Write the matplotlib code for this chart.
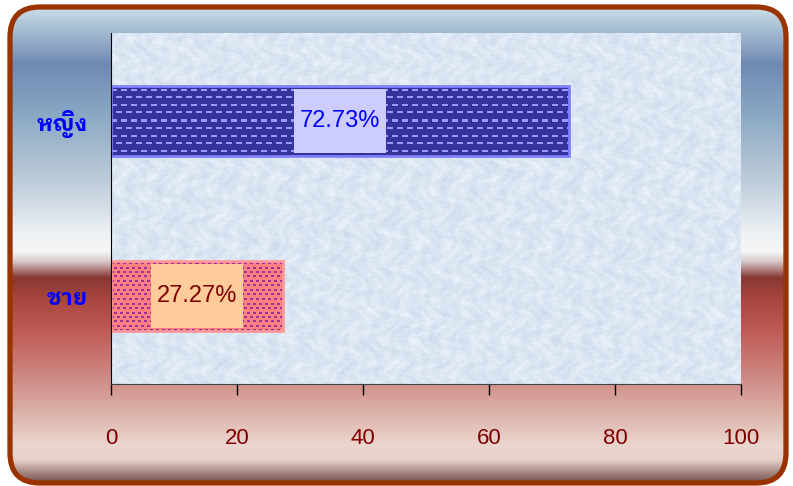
import numpy as np
import matplotlib
matplotlib.use("Agg")
import matplotlib.pyplot as plt
from matplotlib.patches import FancyBboxPatch, Rectangle
from matplotlib.colors import to_rgba, to_rgb

categories = ["ชาย", "หญิง"]
values = [27.27, 72.73]
value_labels = ["27.27%", "72.73%"]
xticks = [0, 20, 40, 60, 80, 100]

bar_colors = ["#ff8080", "#333399"]
dash_colors = ["#993399", "#9999ff"]
edge_colors = ["#ff9999", "#8080ff"]
box_colors = ["#ffcc99", "#ccccff"]
text_colors = ["#800000", "#0000ff"]

W, H = 793, 486
fig = plt.figure(figsize=(W / 100, H / 100), dpi=100)
fig.patch.set_facecolor("white")

# background panel: rounded frame filled with a vertical blue / red gradient
bg = fig.add_axes([0, 0, 1, 1], zorder=0)
bg.set_xlim(0, W)
bg.set_ylim(H, 0)
bg.axis("off")

stops_y = [7, 30, 65, 110, 180, 235, 252, 262, 278, 300, 325, 360, 400, 445, 460, 472, 484]
stops_c = ["#cfe0ea", "#a6bfd2", "#7089b3", "#86a5c2", "#bccbd9", "#eef2f5", "#f6f6f6",
           "#d8c8c8", "#883832", "#a8463f", "#bb5651", "#c97773", "#d7a39d", "#ead6ce",
           "#e6d2ca", "#a88a84", "#6a4a46"]
ys = np.arange(H) + 0.5
rgb = np.array([to_rgb(c) for c in stops_c])
grad = np.stack([np.interp(ys, stops_y, rgb[:, k]) for k in range(3)], axis=1)
grad = np.repeat(grad[:, None, :], 2, axis=1)

frame = FancyBboxPatch((10, 7), 776, 476, boxstyle="round,pad=0,rounding_size=30",
                       facecolor="none", edgecolor="#993300", linewidth=3.8, zorder=3)
bg.add_patch(frame)
im = bg.imshow(grad, extent=(0, W, H, 0), aspect="auto", interpolation="bilinear", zorder=1)
im.set_clip_path(frame)

# chart
ax = fig.add_axes([111 / W, (H - 384) / H, 630 / W, 351 / H], zorder=1)
ax.patch.set_visible(False)
ax.set_xlim(0, 100)
ax.set_ylim(-0.5, 1.5)

# pale blue mottled plot area
gx, gy = np.meshgrid(np.arange(630), np.arange(351))
marble = (np.sin(gx * 0.31 + 2.5 * np.sin(gy * 0.17)) * np.cos(gy * 0.23 + 2.0 * np.sin(gx * 0.11))
          + 0.7 * np.sin(gx * 0.53 + 3 * np.cos(gy * 0.41)) * np.sin(gy * 0.47 - 2 * np.sin(gx * 0.29))
          + 0.6 * np.sin(gx * 0.07 + gy * 0.19) * np.sin(gy * 0.05 - gx * 0.13))
marble = (marble - marble.min()) / (marble.max() - marble.min())
light = np.array(to_rgb("#edf4fc"))
dark = np.array(to_rgb("#cbd9ea"))
tex = light[None, None, :] * (1 - marble[..., None]) + dark[None, None, :] * marble[..., None]
ax.imshow(tex, extent=(0, 100, -0.5, 1.5), aspect="auto", interpolation="bilinear", zorder=0)


def dash_pattern(nx, ny, base, dash, row_step, dash_len, period, thick):
    img = np.empty((ny, nx, 4))
    img[:] = to_rgba(base)
    xs = np.arange(nx)
    for r, y0 in enumerate(np.arange(row_step / 2, ny, row_step)):
        on = ((xs + (period / 2) * (r % 2)) % period) < dash_len
        img[int(round(y0)):int(round(y0)) + thick, on] = to_rgba(dash)
    return img


bar_h = 0.4
px_per_unit = 630 / 100
bar_px = bar_h * 351 / 2
bars = ax.barh(range(len(categories)), values, height=bar_h, color=bar_colors, zorder=1)
patterns = [dict(row_step=4.4, dash_len=3, period=6, thick=2),
            dict(row_step=7.5, dash_len=6, period=10, thick=2)]
for i, (bar, v) in enumerate(zip(bars, values)):
    img = dash_pattern(int(v * px_per_unit), int(bar_px), bar_colors[i], dash_colors[i], **patterns[i])
    pim = ax.imshow(img, extent=(0, v, i - bar_h / 2, i + bar_h / 2), aspect="auto",
                    interpolation="nearest", zorder=2)
    pim.set_clip_path(bar)
ax.barh(range(len(categories)), values, height=bar_h, facecolor="none",
        edgecolor=edge_colors, linewidth=2, zorder=3)

# value labels on filled boxes at the middle of each bar
box_w = 92 / px_per_unit
box_h = 0.365
for i, v in enumerate(values):
    ax.add_patch(Rectangle((v / 2 - box_w / 2, i - box_h / 2), box_w, box_h,
                           facecolor=box_colors[i], edgecolor="none", zorder=4))
    ax.text(v / 2, i, value_labels[i], ha="center", va="center", fontsize=17,
            family=["Liberation Sans", "DejaVu Sans"], color=text_colors[i], zorder=5)

ax.set_xticks(xticks)
ax.set_xticklabels([str(t) for t in xticks], fontsize=16, color="#800000",
                   family=["Liberation Sans", "DejaVu Sans"])
ax.set_yticks(range(len(categories)))
ax.set_yticklabels(categories, fontsize=16, fontweight="bold", color="#0000ff",
                   family=["IBM Plex Sans Thai Looped", "Loma", "DejaVu Sans"])
ax.tick_params(axis="x", direction="out", length=8, width=1, color="black", pad=24)
ax.tick_params(axis="y", length=0, pad=17)
for s in ["top", "right"]:
    ax.spines[s].set_visible(False)
ax.spines["left"].set_color("black")
ax.spines["bottom"].set_color("#404040")
ax.spines["left"].set_zorder(6)
ax.spines["bottom"].set_zorder(6)

fig.savefig("out.png", dpi=100)
